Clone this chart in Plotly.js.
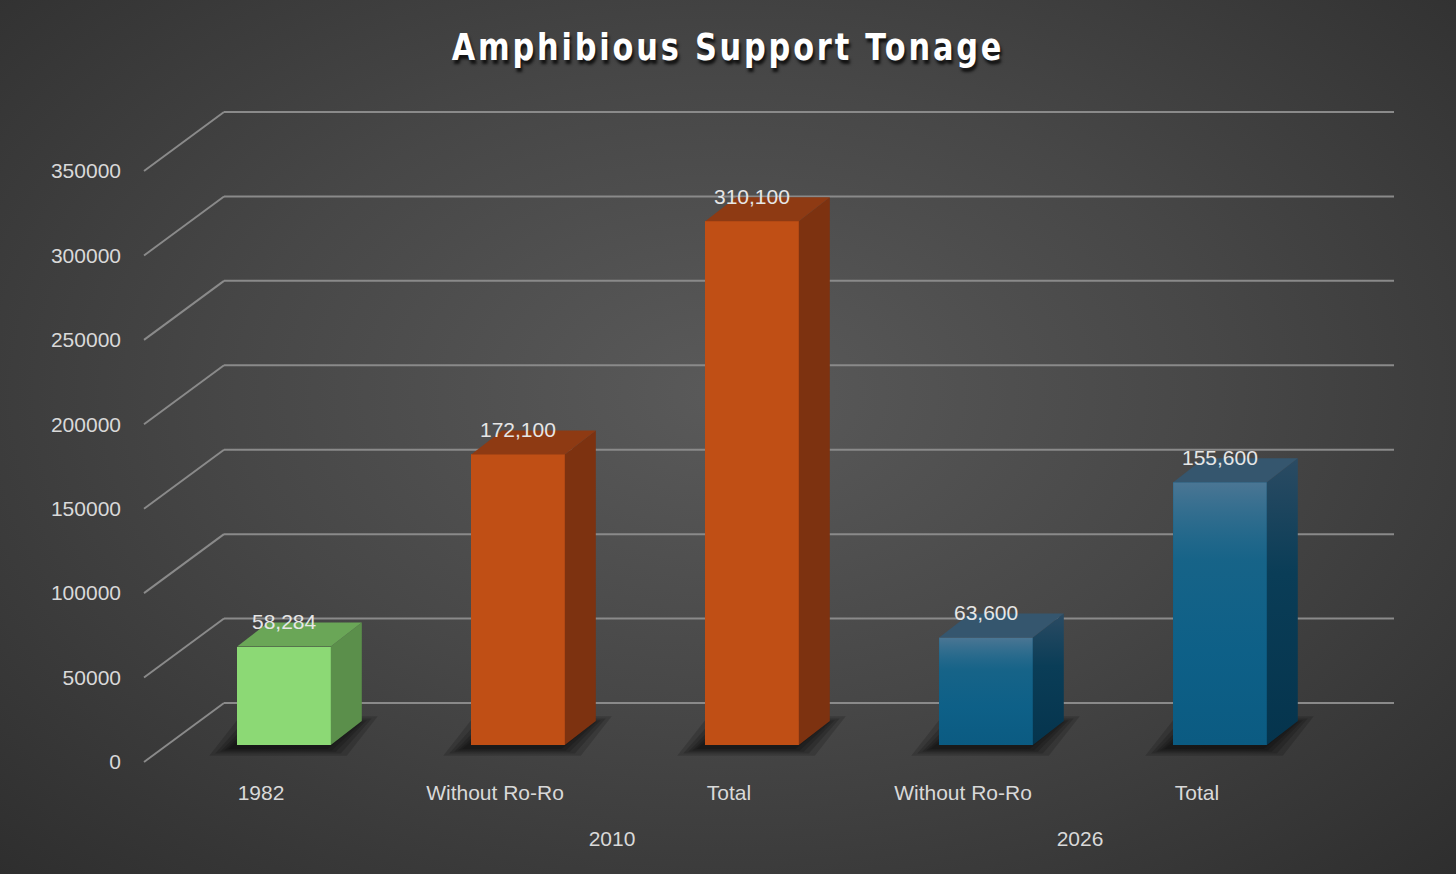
<!DOCTYPE html>
<html>
<head>
<meta charset="utf-8">
<script src="https://cdn.plot.ly/plotly-3.0.1.min.js"></script>
<style>
  html, body { margin: 0; padding: 0; }
  body {
    width: 1456px; height: 874px; overflow: hidden;
    background: radial-gradient(ellipse 75% 80% at 50% 45%, #5a5a5a 0%, #474747 45%, #2c2c2c 100%);
  }
  #chart { width: 1456px; height: 874px; }
  /* no condensed face installed: squeeze the bold title a little */
  .gtitle {
    letter-spacing: 3.5px;
    transform-box: fill-box; transform-origin: center; transform: scaleX(0.8);
  }
</style>
</head>
<body>
<div id="chart"></div>
<script>
// --- data -----------------------------------------------------------------
const GROUPS = ['', '2010', '2010', '2026', '2026'];
const CATEGORIES = ['1982', 'Without Ro-Ro', 'Total', 'Without Ro-Ro', 'Total'];
const TONNAGE = [58284, 172100, 310100, 63600, 155600];
const Y_TICKS = [0, 50000, 100000, 150000, 200000, 250000, 300000, 350000];

// face colours per bar (front / right side / top)
const FRONT = ['#8cd975', '#c04f15', '#c04f15', '#0b5b82', '#0b5b82'];
const SIDE = ['#5b8f4b', '#7d3210', '#7d3210', '#0a3f5a', '#0a3f5a'];
const TOP = ['#6aa657', '#8e3a13', '#8e3a13', '#35566e', '#35566e'];
const GRADIENT = [false, false, false, true, true];

// --- fake 3D geometry, all in pixels then turned into axis units ----------
const W = 1456, H = 874;
const PLOT_L = 142, PLOT_R = 1400, PLOT_T = 100, PLOT_B = 770;
const CAT0 = 284, CAT_W = 234;       // centre of first bar, spacing
const BASE = 745;                    // bar plane baseline (y px)
const K = 591 / 350000;              // px per tonne
const BAR_W = 0.4;
const BAR_DX = 31, BAR_DY = 24;      // bar depth
const FRONT_DX = -23, FRONT_DY = 17; // floor front edge vs bar plane
const BACK_DX = 57, BACK_DY = 42;    // back wall vs bar plane

const pxX = px => px / CAT_W;
const pxY = px => px / K;
const xRange = [(PLOT_L - CAT0) / CAT_W, (PLOT_R - CAT0) / CAT_W];
const yRange = [(BASE - PLOT_B) / K, (BASE - PLOT_T) / K];
// label axes sit on the front edge of the floor
const x2Range = [xRange[0] - pxX(FRONT_DX), xRange[1] - pxX(FRONT_DX)];
const y2Range = [yRange[0] + pxY(FRONT_DY), yRange[1] + pxY(FRONT_DY)];

const idx = TONNAGE.map((_, i) => i);
// centre of each year group, from its members' positions
const groupNames = [...new Set(GROUPS.filter(g => g))];
const groupPos = groupNames.map(g => {
  const members = idx.filter(i => GROUPS[i] === g);
  return members.reduce((a, b) => a + b, 0) / members.length;
});

const dx = pxX(BAR_DX), dy = pxY(BAR_DY);
const traces = [];

// front faces as real bars
traces.push({
  type: 'bar',
  x: idx,
  y: TONNAGE,
  width: BAR_W,
  marker: { color: FRONT, line: { width: 0 } },
  hoverinfo: 'skip',
  showlegend: false,
});

function face(xs, ys, color, grad) {
  const t = {
    type: 'scatter', mode: 'lines',
    x: xs.concat([xs[0]]), y: ys.concat([ys[0]]),
    fill: 'toself', line: { width: 0 },
    fillcolor: color,
    hoverinfo: 'skip', showlegend: false,
  };
  if (grad) t.fillgradient = { type: 'vertical', colorscale: grad };
  return t;
}

TONNAGE.forEach((v, i) => {
  const l = i - BAR_W / 2, r = i + BAR_W / 2;
  // gradient sheen on the blue front faces
  if (GRADIENT[i]) {
    traces.push(face([l, r, r, l], [0, 0, v, v], FRONT[i], [
      [0, 'rgba(16,100,140,0)'], [0.35, 'rgba(16,100,140,0.55)'],
      [0.7, 'rgba(30,105,140,0.6)'], [1, 'rgba(75,118,148,1)'],
    ]));
  }
  traces.push(face([r, r + dx, r + dx, r], [0, dy, v + dy, v], SIDE[i],
    GRADIENT[i] ? [[0, '#05344d'], [0.6, '#0a3d57'], [1, '#2b4b63']] : null));
  traces.push(face([l, l + dx, r + dx, r], [v, v + dy, v + dy, v], TOP[i]));
});

// invisible traces that carry the label axes
traces.push({
  type: 'scatter', mode: 'markers', x: idx, y: TONNAGE,
  xaxis: 'x2', yaxis: 'y2',
  marker: { opacity: 0 }, hoverinfo: 'skip', showlegend: false,
});
traces.push({
  type: 'scatter', mode: 'markers', x: groupPos, y: groupPos.map(() => 0),
  xaxis: 'x3', yaxis: 'y2',
  marker: { opacity: 0 }, hoverinfo: 'skip', showlegend: false,
});

// back wall gridlines + left wall diagonals
const GRID = { color: '#8a8a8a', width: 2 };
const shapes = [];
Y_TICKS.forEach(t => {
  shapes.push({
    type: 'line', layer: 'below', xref: 'x', yref: 'y',
    x0: -0.5 + pxX(BACK_DX), x1: 4.5 + pxX(BACK_DX),
    y0: t + pxY(BACK_DY), y1: t + pxY(BACK_DY), line: GRID,
  });
  shapes.push({
    type: 'line', layer: 'below', xref: 'x', yref: 'y',
    x0: -0.5 + pxX(FRONT_DX), x1: -0.5 + pxX(BACK_DX),
    y0: t - pxY(FRONT_DY), y1: t + pxY(BACK_DY), line: GRID,
  });
});
// soft shadows under the bars (stacked translucent footprints)
TONNAGE.forEach((v, i) => {
  const l = i - BAR_W / 2, r = i + BAR_W / 2;
  [22, 16, 11, 7, 3].forEach(g => {
    const gx = pxX(g), gy = pxY(g * 0.35);
    const sx = pxX(-6), sy = pxY(-3);
    shapes.push({
      type: 'path', layer: 'below', xref: 'x', yref: 'y',
      path: `M${l - gx + sx},${-gy + sy} L${r + gx + sx},${-gy + sy} ` +
            `L${r + dx + gx + sx},${dy + gy + sy} L${l + dx - gx + sx},${dy + gy + sy} Z`,
      fillcolor: 'rgba(0,0,0,0.16)', line: { width: 0 },
    });
  });
});

const LABEL_FONT = { family: 'Liberation Sans, Arial, sans-serif', size: 21, color: '#e6e6e6' };
const AXIS_FONT = { family: 'Liberation Sans, Arial, sans-serif', size: 21, color: '#d9d9d9' };

const annotations = TONNAGE.map((v, i) => ({
  x: i, y: v, xref: 'x', yref: 'y', yshift: 25,
  text: v.toLocaleString('en-US'), showarrow: false,
  font: LABEL_FONT,
}));

Plotly.newPlot('chart', traces, {
  width: W, height: H,
  paper_bgcolor: 'rgba(0,0,0,0)',
  plot_bgcolor: 'rgba(0,0,0,0)',
  margin: { l: PLOT_L, r: W - PLOT_R, t: PLOT_T, b: H - PLOT_B },
  title: {
    text: 'Amphibious Support Tonage',
    x: 0.5, xref: 'container', y: 1 - 47 / H, yref: 'container', yanchor: 'middle',
    font: {
      family: 'DejaVu Sans, sans-serif',
      size: 38, weight: 700, color: '#ffffff',
      shadow: '2px 3px 3px rgba(0,0,0,0.75)',
    },
  },
  showlegend: false,
  bargap: 0,
  xaxis: { range: xRange, visible: false, fixedrange: true },
  yaxis: { range: yRange, visible: false, fixedrange: true },
  xaxis2: {
    overlaying: 'x', anchor: 'y2', range: x2Range,
    tickvals: idx, ticktext: CATEGORIES,
    showgrid: false, zeroline: false, showline: false,
    ticks: '', tickfont: AXIS_FONT, ticklabelstandoff: 8,
  },
  xaxis3: {
    overlaying: 'x', anchor: 'y2', range: x2Range,
    tickvals: groupPos, ticktext: groupNames,
    showgrid: false, zeroline: false, showline: false,
    ticks: '', tickfont: AXIS_FONT, ticklabelstandoff: 54,
  },
  yaxis2: {
    overlaying: 'y', anchor: 'x2', side: 'left', range: y2Range,
    tickvals: Y_TICKS, tickformat: 'd',
    showgrid: false, zeroline: false, showline: false,
    ticks: '', tickfont: AXIS_FONT, ticklabelstandoff: 20,
  },
  shapes,
  annotations,
}, { staticPlot: true, displayModeBar: false });
</script>
</body>
</html>
